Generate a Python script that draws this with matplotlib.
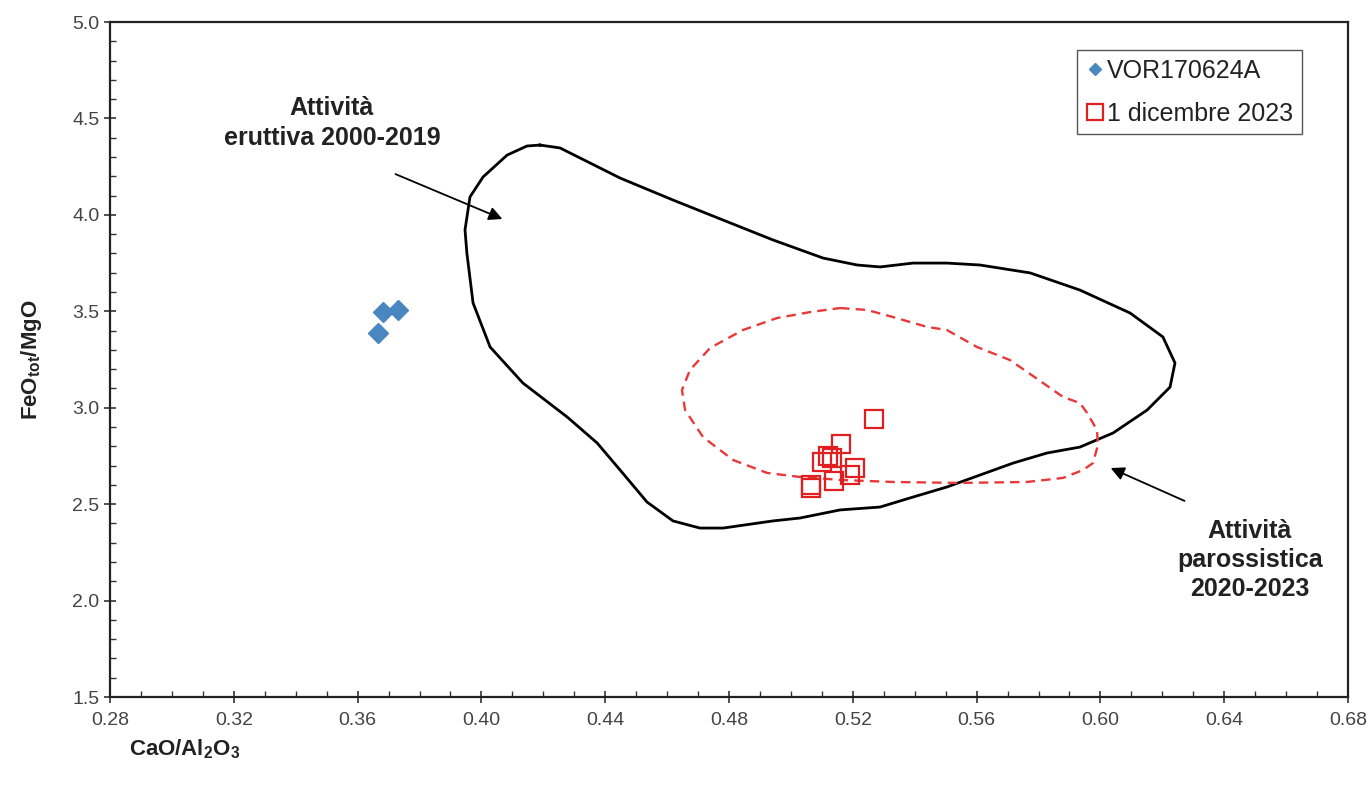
import matplotlib
matplotlib.use("Agg")
import matplotlib.pyplot as plt
from matplotlib.lines import Line2D
from matplotlib.ticker import MultipleLocator

plt.rcParams['font.family'] = ['Liberation Sans', 'DejaVu Sans']
plt.rcParams['mathtext.fontset'] = 'custom'
plt.rcParams['mathtext.rm'] = 'Liberation Sans:bold'
plt.rcParams['mathtext.bf'] = 'Liberation Sans:bold'
plt.rcParams['mathtext.default'] = 'bf'

# samples
vor_x = [0.3666, 0.3682, 0.3731]
vor_y = [3.387, 3.496, 3.507]

dic_x = [0.5268, 0.5162, 0.5133, 0.5100, 0.5120, 0.5207, 0.5191, 0.5139, 0.5065, 0.5065]
dic_y = [2.941, 2.812, 2.739, 2.719, 2.750, 2.687, 2.651, 2.620, 2.599, 2.584]

# field of eruptive activity 2000-2019
erupt_x = [0.4189, 0.4254, 0.4351, 0.4448, 0.4619, 0.4781, 0.4942, 0.5104, 0.5214, 0.5288,
           0.5395, 0.5504, 0.5611, 0.5773, 0.5934, 0.6096, 0.6202, 0.6241, 0.6225, 0.6151,
           0.6041, 0.5934, 0.5827, 0.5718, 0.5611, 0.5504, 0.5395, 0.5288, 0.5159, 0.5029,
           0.4942, 0.4781, 0.4706, 0.4619, 0.4535, 0.4448, 0.4374, 0.4277, 0.4134, 0.4028,
           0.3973, 0.3953, 0.3947, 0.3963, 0.4005, 0.4083, 0.4147, 0.4189]
erupt_y = [4.362, 4.347, 4.269, 4.191, 4.077, 3.973, 3.870, 3.776, 3.740, 3.730,
           3.750, 3.750, 3.740, 3.699, 3.610, 3.491, 3.367, 3.232, 3.107, 2.988,
           2.869, 2.796, 2.765, 2.713, 2.651, 2.589, 2.537, 2.485, 2.470, 2.428,
           2.413, 2.376, 2.376, 2.413, 2.511, 2.677, 2.817, 2.952, 3.128, 3.315,
           3.543, 3.802, 3.922, 4.093, 4.196, 4.310, 4.357, 4.362]

# field of paroxysmal activity 2020-2023
parox_x = [0.5159, 0.5246, 0.5330, 0.5440, 0.5504, 0.5601, 0.5708, 0.5815, 0.5879, 0.5934,
           0.5957, 0.5989, 0.5992, 0.5976, 0.5944, 0.5879, 0.5763, 0.5546, 0.5330, 0.5168,
           0.5029, 0.4923, 0.4813, 0.4716, 0.4658, 0.4648, 0.4674, 0.4739, 0.4845, 0.4955,
           0.5062, 0.5159]
parox_y = [3.517, 3.507, 3.470, 3.419, 3.403, 3.315, 3.247, 3.128, 3.056, 3.024,
           2.973, 2.884, 2.807, 2.713, 2.677, 2.636, 2.615, 2.610, 2.615, 2.625,
           2.641, 2.662, 2.729, 2.848, 2.988, 3.092, 3.196, 3.310, 3.403, 3.465,
           3.496, 3.517]

fig = plt.figure(figsize=(13.72, 7.89), dpi=100)
ax = fig.add_axes([0.0802, 0.1166, 0.9023, 0.8555])

ax.plot(erupt_x, erupt_y, color='black', lw=2.0, zorder=2)
ax.plot(parox_x, parox_y, color='#e8393a', lw=1.7, ls=(0, (4, 2.6)), zorder=2)
ax.plot(vor_x, vor_y, ls='none', marker='D', ms=10, color='#4a86c0', mec='#4a86c0', zorder=3)
ax.plot(dic_x, dic_y, ls='none', marker='s', ms=12.5, mfc='none', mec='#e02020', mew=1.6, zorder=3)

ax.set_xlim(0.28, 0.68)
ax.set_ylim(1.5, 5.0)
ax.xaxis.set_major_locator(MultipleLocator(0.04))
ax.xaxis.set_minor_locator(MultipleLocator(0.01))
ax.yaxis.set_major_locator(MultipleLocator(0.5))
ax.yaxis.set_minor_locator(MultipleLocator(0.1))
ax.xaxis.set_major_formatter(plt.FormatStrFormatter('%.2f'))
ax.yaxis.set_major_formatter(plt.FormatStrFormatter('%.1f'))
ax.tick_params(which='major', direction='inout', length=9, width=1.2, labelsize=14,
               colors='#333333', labelcolor='#444444', pad=3)
ax.tick_params(axis='x', which='major', pad=6)
ax.tick_params(which='minor', direction='in', length=4, width=1.0, colors='#333333')
for s in ax.spines.values():
    s.set_linewidth(1.6)
    s.set_color('#222222')

ax.set_xlabel('CaO/Al$_2$O$_3$', fontsize=16, fontweight='bold', color='#222222')
ax.xaxis.set_label_coords(0.06, -0.06)
ax.set_ylabel('FeO$_{tot}$/MgO', fontsize=16, fontweight='bold', color='#222222')
ax.yaxis.set_label_coords(-0.053, 0.5)

ax.annotate('', xy=(0.4076, 3.973), xytext=(0.3714, 4.217),
            arrowprops=dict(arrowstyle='-|>', color='black', lw=1.3, mutation_scale=20))
ax.annotate('', xy=(0.6025, 2.693), xytext=(0.6280, 2.511),
            arrowprops=dict(arrowstyle='-|>', color='black', lw=1.3, mutation_scale=20))
ax.text(0.3517, 4.476, 'Attività\neruttiva 2000-2019', ha='center', va='center',
        fontsize=18, fontweight='bold', color='#222222', linespacing=1.3)
ax.text(0.6483, 2.21, 'Attività\nparossistica\n2020-2023', ha='center', va='center',
        fontsize=18, fontweight='bold', color='#222222', linespacing=1.25)

handles = [
    Line2D([], [], ls='none', marker='D', ms=6, color='#4a86c0'),
    Line2D([], [], ls='none', marker='s', ms=12, mfc='none', mec='#e02020', mew=1.6),
]
leg = ax.legend(handles, ['VOR170624A', '1 dicembre 2023'], loc='upper right',
                bbox_to_anchor=(0.9628, 0.9585), borderaxespad=0, fancybox=False,
                fontsize=18, handlelength=0.7, handletextpad=0.15, borderpad=0.35,
                labelspacing=0.75, framealpha=1)
leg.get_frame().set_edgecolor('#555555')
leg.get_frame().set_linewidth(1.0)
for t in leg.get_texts():
    t.set_color('#222222')

fig.savefig('out.png', dpi=100)
